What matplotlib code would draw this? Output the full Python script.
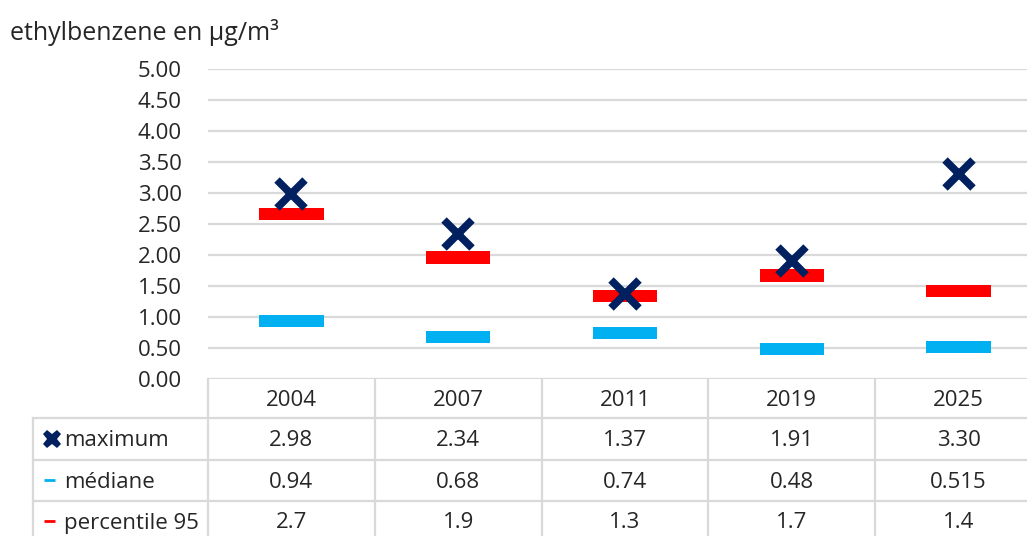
import matplotlib
matplotlib.use("Agg")
import matplotlib.pyplot as plt
from matplotlib.lines import Line2D
from matplotlib.transforms import blended_transform_factory

plt.rcParams['font.family'] = ['Open Sans', 'DejaVu Sans']

# data
years = ["2004", "2007", "2011", "2019", "2025"]
maximum = [2.98, 2.34, 1.37, 1.91, 3.30]
mediane = [0.94, 0.68, 0.74, 0.48, 0.515]
p95 = [2.66, 1.96, 1.34, 1.67, 1.42]
max_labels = ["2.98", "2.34", "1.37", "1.91", "3.30"]
med_labels = ["0.94", "0.68", "0.74", "0.48", "0.515"]
p95_labels = ["2.7", "1.9", "1.3", "1.7", "1.4"]
yticks = [0, 0.5, 1, 1.5, 2, 2.5, 3, 3.5, 4, 4.5, 5]

W, H = 1027, 536
txt = '#262626'
grid = '#d9d9d9'
navy = '#002060'
blue = '#00b0f0'
red = '#ff0000'
fs = 16


def fy(y):
    return 1 - y / H


fig = plt.figure(figsize=(W / 100, H / 100), dpi=100)
ax = fig.add_axes([208 / W, fy(379), 834 / W, 310 / H])

x = list(range(len(years)))
ax.bar(x, 0.2, bottom=[v - 0.1 for v in p95], width=0.385, color=red, zorder=3)
ax.bar(x, 0.2, bottom=[v - 0.1 for v in mediane], width=0.385, color=blue, zorder=3)
ax.plot(x, maximum, linestyle='none', marker='x', markersize=20,
        markeredgewidth=5.5, color=navy, zorder=4)

ax.set_xlim(-0.5, 4.5)
ax.set_ylim(0, 5)
ax.set_yticks(yticks)
ax.set_yticklabels(["%.2f" % t for t in yticks], fontsize=fs, color=txt)
ax.tick_params(axis='y', length=0, pad=19)
ax.set_xticks([])
for s in ax.spines.values():
    s.set_visible(False)
ax.grid(axis='y', color=grid, linewidth=1.6)
ax.set_axisbelow(True)

fig.text(10 / W, fy(32), "ethylbenzene en µg/m³", fontsize=18, color=txt,
         va='center', ha='left')

# data table under the chart
tr = blended_transform_factory(ax.transData, fig.transFigure)
lw = 1.6
for xv in [-0.5, 0.5, 1.5, 2.5, 3.5]:
    fig.add_artist(Line2D([xv, xv], [fy(379), 0], transform=tr, color=grid, lw=lw))
for yy in [418, 460, 501]:
    fig.add_artist(Line2D([33 / W, 1], [fy(yy), fy(yy)], color=grid, lw=lw))
fig.add_artist(Line2D([33 / W, 33 / W], [fy(418), 0], color=grid, lw=lw))

rows_y = [401, 441, 482, 523]
for i in x:
    fig.text(i, fy(rows_y[0]), years[i], transform=tr, ha='center', va='center', fontsize=fs, color=txt)
    fig.text(i, fy(rows_y[1]), max_labels[i], transform=tr, ha='center', va='center', fontsize=fs, color=txt)
    fig.text(i, fy(rows_y[2]), med_labels[i], transform=tr, ha='center', va='center', fontsize=fs, color=txt)
    fig.text(i, fy(rows_y[3]), p95_labels[i], transform=tr, ha='center', va='center', fontsize=fs, color=txt)

fig.add_artist(Line2D([52 / W], [fy(439)], marker='X', markersize=13, color=navy,
                      markeredgewidth=0, linestyle='none'))
fig.add_artist(Line2D([44 / W, 55 / W], [fy(480), fy(480)], color=blue, lw=2, solid_capstyle='butt'))
fig.add_artist(Line2D([44 / W, 55 / W], [fy(521), fy(521)], color=red, lw=2, solid_capstyle='butt'))
fig.text(64 / W, fy(441), "maximum", fontsize=fs, color=txt, va='center')
fig.text(64 / W, fy(482), "médiane", fontsize=fs, color=txt, va='center')
fig.text(64 / W, fy(523), "percentile 95", fontsize=fs, color=txt, va='center')

fig.savefig("out.png", dpi=100)
